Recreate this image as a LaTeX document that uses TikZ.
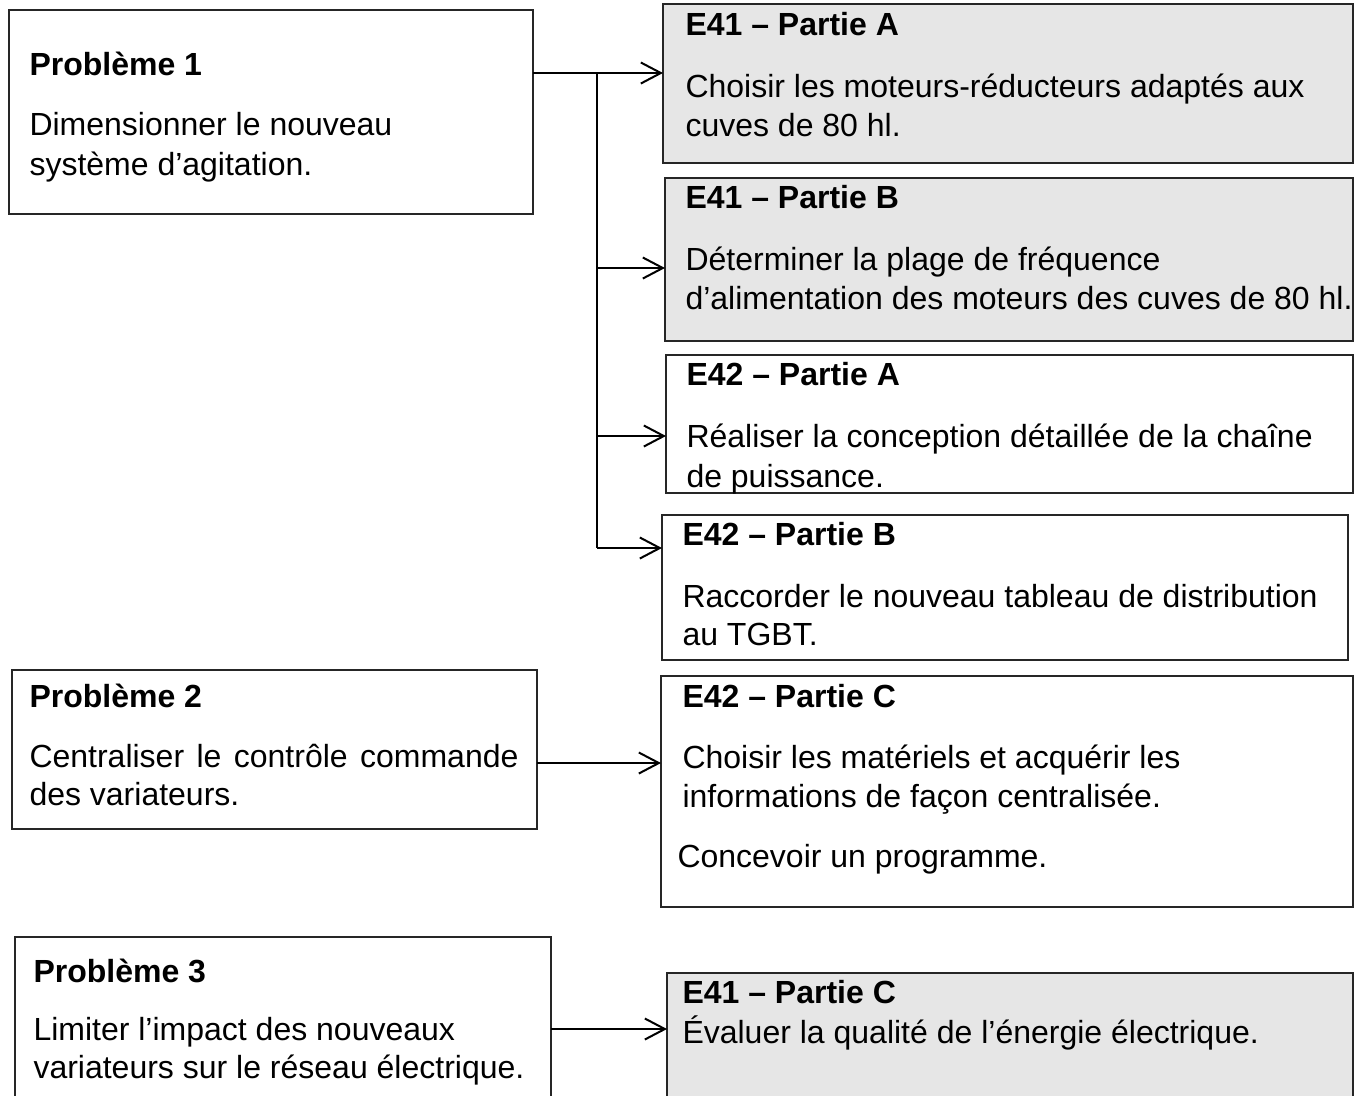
\documentclass[tikz,border=0pt]{standalone}
\usepackage{fontspec}
\setmainfont{Liberation Sans}
\usepackage{xcolor}
\usetikzlibrary{positioning,arrows.meta}
\definecolor{boxgrey}{RGB}{230,230,230}
\tikzset{
  box/.style={draw=black!85, line width=0.5pt, anchor=north west, inner sep=0pt, outer sep=0pt},
  greybox/.style={box, fill=boxgrey},
  ttl/.style={anchor=base west, inner sep=0pt, font=\fontsize{12.8}{14}\selectfont\bfseries},
  txt/.style={anchor=base west, inner sep=0pt, font=\fontsize{12.8}{14}\selectfont},
  link/.style={line width=0.8pt},
  arr/.style={line width=0.8pt, -{Straight Barb[length=8pt,width=8.4pt,line width=0.8pt]}}
}

\begin{document}
\begin{tikzpicture}[x=0.4pt,y=-0.4pt]
\useasboundingbox (0,0) rectangle (1359,1095);
\clip (0,0) rectangle (1359,1095);

% boxes
\node[box, minimum width=524*0.4pt, minimum height=204*0.4pt] (p1) at (9,10) {};
\node[box, minimum width=525*0.4pt, minimum height=159*0.4pt] (p2) at (12,670) {};
\node[box, minimum width=536*0.4pt, minimum height=200*0.4pt] (p3) at (15,937) {};
\node[greybox, minimum width=690*0.4pt, minimum height=159*0.4pt] (e41a) at (663,4) {};
\node[greybox, minimum width=688*0.4pt, minimum height=163*0.4pt] (e41b) at (665,178) {};
\node[box, minimum width=687*0.4pt, minimum height=138*0.4pt] (e42a) at (666,355) {};
\node[box, minimum width=686*0.4pt, minimum height=145*0.4pt] (e42b) at (662,515) {};
\node[box, minimum width=692*0.4pt, minimum height=231*0.4pt] (e42c) at (661,676) {};
\node[greybox, minimum width=686*0.4pt, minimum height=200*0.4pt] (e41c) at (667,973) {};

% texts
\node[ttl] (p1t) at (29,75) {Problème 1};
\node[txt] (p1a) at (29,135) {Dimensionner le nouveau};
\node[txt] (p1b) at (29,175) {système d’agitation.};

\node[ttl] (p2t) at (29,707) {Problème 2};
\node[txt] (p2a) at (29,767) {\makebox[195.6pt][s]{Centraliser le contrôle commande}};
\node[txt] (p2b) at (29,805) {des variateurs.};

\node[ttl] (p3t) at (33,982) {Problème 3};
\node[txt] (p3a) at (33,1040) {Limiter l’impact des nouveaux};
\node[txt] (p3b) at (33,1078) {variateurs sur le réseau électrique.};

\node[ttl] (e41at) at (685,35) {E41 – Partie A};
\node[txt] (e41aa) at (685,97) {Choisir les moteurs-réducteurs adaptés aux};
\node[txt] (e41ab) at (685,136) {cuves de 80 hl.};

\node[ttl] (e41bt) at (685,208) {E41 – Partie B};
\node[txt] (e41ba) at (685,270) {Déterminer la plage de fréquence};
\node[txt] (e41bb) at (685,309) {d’alimentation des moteurs des cuves de 80 hl.};

\node[ttl] (e42at) at (686,385) {E42 – Partie A};
\node[txt] (e42aa) at (686,447) {Réaliser la conception détaillée de la chaîne};
\node[txt] (e42ab) at (686,487) {de puissance.};

\node[ttl] (e42bt) at (682,545) {E42 – Partie B};
\node[txt] (e42ba) at (682,607) {Raccorder le nouveau tableau de distribution};
\node[txt] (e42bb) at (682,645) {au TGBT.};

\node[ttl] (e42ct) at (682,707) {E42 – Partie C};
\node[txt] (e42ca) at (682,768) {Choisir les matériels et acquérir les};
\node[txt] (e42cb) at (682,807) {informations de façon centralisée.};
\node[txt] (e42cc) at (677,867) {Concevoir un programme.};

\node[ttl] (e41ct) at (682,1003) {E41 – Partie C};
\node[txt] (e41ca) at (682,1043) {Évaluer la qualité de l’énergie électrique.};

% connectors
\coordinate (j1) at (597,73);
\coordinate (j2) at (597,268);
\coordinate (j3) at (597,436);
\coordinate (j4) at (597,548);
\coordinate (k2) at (600,763);
\coordinate (k3) at (610,1029);
\draw[link] (p1.east |- j1) -- (j1);
\draw[line width=1.1pt] (j1) -- (j4);
\draw[arr] (j1) -- (j1 -| e41a.west);
\draw[arr] (j2) -- (j2 -| e41b.west);
\draw[arr] (j3) -- (j3 -| e42a.west);
\draw[arr] (j4) -- (j4 -| e42b.west);
\draw[arr] (p2.east |- k2) -- (k2 -| e42c.west);
\draw[arr] (p3.east |- k3) -- (k3 -| e41c.west);
\end{tikzpicture}
\end{document}
